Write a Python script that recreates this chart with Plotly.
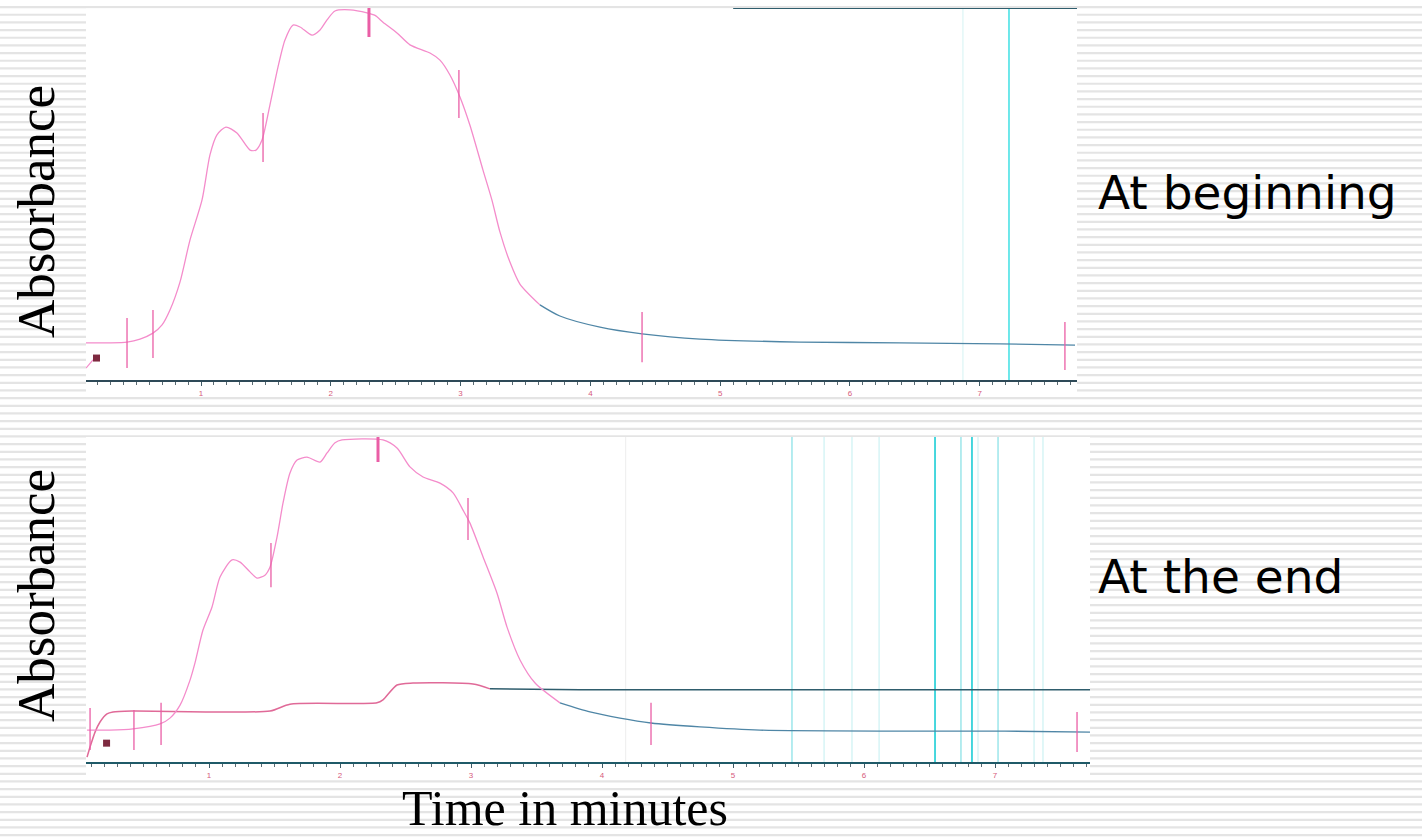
import plotly.graph_objects as go

W, H = 1422, 840

# ---------------- data: top panel ("At beginning") ----------------
top_t = [0.114, 0.299, 0.430, 0.530, 0.630, 0.700, 0.761, 0.838, 0.915, 1.008, 1.069, 1.123,
         1.192, 1.277, 1.378, 1.424, 1.470, 1.531, 1.593, 1.647, 1.709, 1.763, 1.855, 1.917,
         1.971, 2.032, 2.148, 2.279, 2.341, 2.402, 2.510, 2.610, 2.764, 2.841, 2.918, 2.995,
         3.072, 3.172, 3.241, 3.303, 3.380, 3.457, 3.611, 3.765, 4.074, 4.398, 4.845, 5.615,
         6.385, 7.156, 7.734]
top_abs = [0.100, 0.100, 0.102, 0.110, 0.126, 0.148, 0.188, 0.263, 0.376, 0.484, 0.605, 0.659,
           0.680, 0.664, 0.618, 0.618, 0.645, 0.739, 0.841, 0.914, 0.954, 0.949, 0.927, 0.941,
           0.968, 0.992, 0.995, 0.987, 0.980, 0.962, 0.933, 0.901, 0.879, 0.860, 0.820, 0.761,
           0.685, 0.565, 0.484, 0.398, 0.317, 0.258, 0.202, 0.172, 0.142, 0.124, 0.110, 0.102,
           0.100, 0.097, 0.094]
top_colour_change = 3.611
top_mark_t = [0.430, 0.630, 1.478, 2.987, 4.398, 7.656]
top_mark_lo = [0.032, 0.059, 0.586, 0.704, 0.048, 0.027]
top_mark_hi = [0.167, 0.188, 0.718, 0.833, 0.183, 0.156]
top_peak_mark_t = [2.294]
top_peak_mark_lo = [0.922]
top_peak_mark_hi = [1.0]
top_square_t = [0.195]
top_square_abs = [0.059]
top_start_t = [0.114, 0.168]
top_start_abs = [0.032, 0.054]
top_edge_t = [5.10, 7.75]
top_edge_abs = [1.0, 1.0]
top_cyan_strong_t = [7.225]
top_cyan_faint_t = [6.870]

# ---------------- data: bottom panel ("At the end") ----------------
bot_t = [0.069, 0.244, 0.420, 0.626, 0.702, 0.779, 0.855, 0.893, 0.954, 1.023, 1.084, 1.176,
         1.237, 1.313, 1.366, 1.427, 1.466, 1.519, 1.565, 1.618, 1.672, 1.748, 1.847, 1.901,
         1.962, 2.015, 2.328, 2.435, 2.534, 2.634, 2.763, 2.863, 2.939, 2.992, 3.092, 3.198,
         3.275, 3.374, 3.489, 3.679, 3.908, 4.137, 4.374, 4.748, 5.206, 6.275, 7.076, 7.725]
bot_abs = [0.098, 0.098, 0.102, 0.117, 0.135, 0.175, 0.252, 0.305, 0.406, 0.477, 0.569, 0.622,
           0.615, 0.585, 0.566, 0.575, 0.600, 0.692, 0.797, 0.889, 0.929, 0.938, 0.923, 0.951,
           0.982, 0.991, 0.991, 0.966, 0.908, 0.877, 0.858, 0.828, 0.775, 0.735, 0.631, 0.520,
           0.415, 0.314, 0.243, 0.182, 0.154, 0.135, 0.120, 0.108, 0.098, 0.095, 0.095, 0.092]
bot_colour_change = 3.679
bot2_t = [0.069, 0.092, 0.130, 0.168, 0.221, 0.267, 0.420, 1.466, 1.618, 2.282, 2.328, 2.435,
          2.557, 3.015, 3.145, 3.832, 7.725]
bot2_abs = [0.015, 0.046, 0.092, 0.123, 0.148, 0.154, 0.157, 0.157, 0.178, 0.182, 0.191, 0.237,
            0.243, 0.240, 0.225, 0.222, 0.222]
bot2_colour_change = 3.145
bot_mark_t = [0.092, 0.427, 0.634, 1.473, 2.977, 4.374, 7.626]
bot_mark_lo = [0.037, 0.037, 0.052, 0.538, 0.683, 0.052, 0.031]
bot_mark_hi = [0.166, 0.160, 0.182, 0.674, 0.812, 0.182, 0.154]
bot_peak_mark_t = [2.290]
bot_peak_mark_lo = [0.923]
bot_peak_mark_hi = [1.0]
bot_square_t = [0.218]
bot_square_abs = [0.058]
bot_cyan_strong_t = [6.542, 6.824]
bot_cyan_medium_t = [6.740, 7.023, 5.450]
bot_cyan_faint_t = [5.695, 5.908, 6.115, 6.870, 7.298, 7.366]
bot_grey_faint_t = [4.180]

tick_vals = [1, 2, 3, 4, 5, 6, 7]
tick_text = ["1", "2", "3", "4", "5", "6", "7"]

# ---------------- styling ----------------
PINK = "#f48ccb"
TEAL = "#4f86a6"
DARK = "#2f5d6d"
MARK = "#ea5ea6"
SERIF = "Liberation Serif, Times New Roman, serif"
SANS = "DejaVu Sans, Verdana, sans-serif"


def px(x):
    return x / W


def py(y):
    return 1 - y / H


def split(t, a, cut):
    """Split a series into the part before and after a data point at time `cut`."""
    first = [(ti, ai) for ti, ai in zip(t, a) if ti <= cut]
    second = [(ti, ai) for ti, ai in zip(t, a) if ti >= cut]
    return ([p[0] for p in first], [p[1] for p in first]), ([p[0] for p in second], [p[1] for p in second])


def segs(ts, los, his):
    xs, ys = [], []
    for t, lo, hi in zip(ts, los, his):
        xs += [t, t, None]
        ys += [lo, hi, None]
    return xs, ys


def vlines(ts):
    xs, ys = [], []
    for t in ts:
        xs += [t, t, None]
        ys += [0, 1, None]
    return xs, ys


fig = go.Figure()


def line(x, y, color, width, xa, ya, shape="linear"):
    fig.add_trace(go.Scatter(x=x, y=y, mode="lines", xaxis=xa, yaxis=ya, hoverinfo="skip",
                             line=dict(color=color, width=width, shape=shape,
                                       smoothing=0.7 if shape == "spline" else None),
                             showlegend=False))


# --- top panel
for ts, col, wd in [(top_cyan_faint_t, "#e3f7f7", 1.5), (top_cyan_strong_t, "#3fe0e4", 1.5)]:
    vx, vy = vlines(ts)
    line(vx, vy, col, wd, "x", "y")
(p1, p2) = split(top_t, top_abs, top_colour_change)
line(p1[0], p1[1], PINK, 1.3, "x", "y", "spline")
line(p2[0], p2[1], TEAL, 1.3, "x", "y", "spline")
line(top_start_t, top_start_abs, PINK, 1.2, "x", "y")
line(top_edge_t, top_edge_abs, DARK, 2, "x", "y")
mx, my = segs(top_mark_t, top_mark_lo, top_mark_hi)
line(mx, my, MARK, 1.3, "x", "y")
mx, my = segs(top_peak_mark_t, top_peak_mark_lo, top_peak_mark_hi)
line(mx, my, MARK, 3, "x", "y")
fig.add_trace(go.Scatter(x=top_square_t, y=top_square_abs, mode="markers", xaxis="x", yaxis="y",
                         marker=dict(symbol="square", size=7, color="#7e2a40"), showlegend=False,
                         hoverinfo="skip"))

# --- bottom panel
for ts, col, wd in [(bot_grey_faint_t, "#f0f0f0", 1.2), (bot_cyan_faint_t, "#d0f3f4", 1.3),
                    (bot_cyan_medium_t, "#95e4e9", 1.4), (bot_cyan_strong_t, "#35d3da", 1.8)]:
    vx, vy = vlines(ts)
    line(vx, vy, col, wd, "x2", "y2")
(q1, q2) = split(bot2_t, bot2_abs, bot2_colour_change)
line(q1[0], q1[1], "#e06a98", 1.5, "x2", "y2", "spline")
line(q2[0], q2[1], DARK, 1.5, "x2", "y2", "spline")
(p1, p2) = split(bot_t, bot_abs, bot_colour_change)
line(p1[0], p1[1], PINK, 1.3, "x2", "y2", "spline")
line(p2[0], p2[1], TEAL, 1.3, "x2", "y2", "spline")
mx, my = segs(bot_mark_t, bot_mark_lo, bot_mark_hi)
line(mx, my, MARK, 1.3, "x2", "y2")
mx, my = segs(bot_peak_mark_t, bot_peak_mark_lo, bot_peak_mark_hi)
line(mx, my, MARK, 3, "x2", "y2")
fig.add_trace(go.Scatter(x=bot_square_t, y=bot_square_abs, mode="markers", xaxis="x2", yaxis="y2",
                         marker=dict(symbol="square", size=7, color="#7e2a40"), showlegend=False,
                         hoverinfo="skip"))

# ---------------- background: striped slide + white chart panels ----------------
shapes = []
y = 6.0
while y < H:
    shapes.append(dict(type="rect", xref="paper", yref="paper", x0=0, x1=1,
                       y0=py(y + 2.2), y1=py(y), fillcolor="#e4e4e4", line=dict(width=0),
                       layer="below"))
    y += 7.667
shapes.append(dict(type="rect", xref="paper", yref="paper", x0=px(86), x1=px(1077),
                   y0=py(395), y1=py(8.5), fillcolor="white", line=dict(width=0), layer="below"))
shapes.append(dict(type="rect", xref="paper", yref="paper", x0=px(86), x1=px(1090),
                   y0=py(778), y1=py(437), fillcolor="white", line=dict(width=0), layer="below"))

axis_common = dict(showgrid=False, zeroline=False, showline=True, linewidth=2,
                   ticks="outside", ticklen=4, tickwidth=1, tickvals=tick_vals, ticktext=tick_text,
                   tickfont=dict(size=8, color="#d65a7c", family="Liberation Sans, Arial"),
                   minor=dict(ticks="outside", dtick=0.1, ticklen=3, tickwidth=1, tickcolor="#5a6a72"),
                   fixedrange=True)

fig.update_layout(
    width=W, height=H,
    margin=dict(l=0, r=0, t=0, b=0),
    paper_bgcolor="white",
    plot_bgcolor="rgba(0,0,0,0)",
    showlegend=False,
    shapes=shapes,
    xaxis=dict(domain=[px(86), px(1077)], range=[0.114, 7.749], anchor="y",
               linecolor="#2e4a58", tickcolor="#3e5a66", **axis_common),
    yaxis=dict(domain=[py(380), py(8)], range=[0, 1], visible=False, fixedrange=True, anchor="x"),
    xaxis2=dict(domain=[px(86), px(1090)], range=[0.061, 7.725], anchor="y2",
                linecolor="#1f5a68", tickcolor="#3e5a66", **axis_common),
    yaxis2=dict(domain=[py(762), py(437)], range=[0, 1.0], visible=False, fixedrange=True, anchor="x2"),
    annotations=[
        dict(text="Absorbance", x=px(36), y=py(212), xref="paper", yref="paper", textangle=-90,
             showarrow=False, xanchor="center", yanchor="middle",
             font=dict(family=SERIF, size=53, color="black")),
        dict(text="Absorbance", x=px(36), y=py(596), xref="paper", yref="paper", textangle=-90,
             showarrow=False, xanchor="center", yanchor="middle",
             font=dict(family=SERIF, size=53, color="black")),
        dict(text="At beginning", x=px(1096), y=py(193), xref="paper", yref="paper",
             showarrow=False, xanchor="left", yanchor="middle",
             font=dict(family=SANS, size=47, color="black")),
        dict(text="At the end", x=px(1096), y=py(576), xref="paper", yref="paper",
             showarrow=False, xanchor="left", yanchor="middle",
             font=dict(family=SANS, size=47, color="black")),
        dict(text="Time in minutes", x=px(565), y=py(808), xref="paper", yref="paper",
             showarrow=False, xanchor="center", yanchor="middle",
             font=dict(family=SERIF, size=50, color="black")),
    ],
)

fig.write_html("out.html")
